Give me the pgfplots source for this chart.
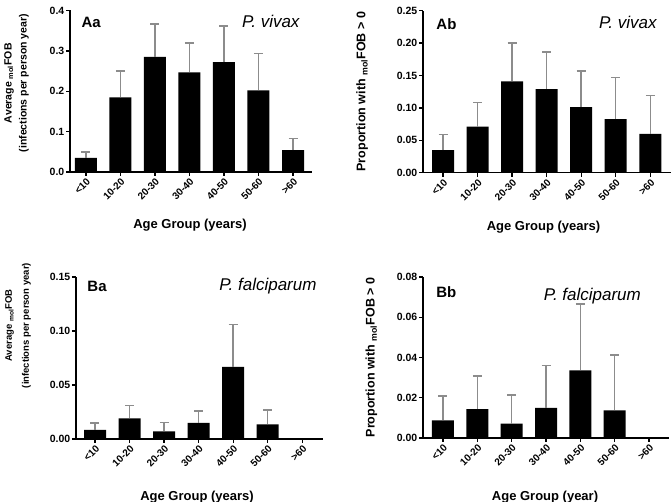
\documentclass[border=0pt]{standalone}
\usepackage{pgfplots}
\pgfplotsset{compat=1.18}
\usepackage{fontspec}
\setmainfont{Liberation Sans}

\pgfplotsset{
 panel/.style={
  scale only axis,
  axis x line*=bottom, axis y line*=left,
  axis line style={line width=1.6pt,-},
  ybar, bar width=22pt,
  ymin=0,
  scaled y ticks=false,
  xtick={0,...,6},
  xticklabels={<10,10-20,20-30,30-40,40-50,50-60,>60},
  x tick label style={rotate=45, anchor=north east, inner sep=1pt, font=\bfseries\fontsize{10}{10}\selectfont},
  y tick label style={font=\bfseries\fontsize{10.5}{11}\selectfont, inner sep=1.5pt},
  tick align=outside, major tick length=4pt,
  tick style={line width=1.3pt, black},
  /pgf/number format/assume math mode=true,
  clip=false,
  every axis y label/.style={rotate=90, anchor=center, align=center},
  every axis x label/.style={anchor=center, font=\bfseries\fontsize{13}{14}\selectfont},
 },
 barstyle/.style={fill=black, draw=none,
   error bars/.cd, y dir=plus, y explicit,
   error bar style={line width=1.5pt, black!45},
   error mark options={rotate=90, mark size=4.5pt, line width=1.5pt, black!45}},
}

\begin{document}
\begin{tikzpicture}
\useasboundingbox (0,0) rectangle (672pt,502pt);

% ---------------- Aa ----------------
\begin{axis}[panel,
  at={(70pt,330pt)}, anchor=south west,
  width=242pt, height=161.5pt,
  xmin=-0.46, xmax=6.55, ymax=0.4,
  ytick={0,0.1,0.2,0.3,0.4}, yticklabels={0.0,0.1,0.2,0.3,0.4},
  xlabel={Age Group (years)},
  xlabel style={at={(axis description cs:0.496,-0.328)}},
  ylabel={Average \textsubscript{mol}FOB\\(infections per person year)},
  ylabel style={at={(axis description cs:-0.221,0.55)}, font=\bfseries\fontsize{10.5}{15}\selectfont},
]
\addplot[barstyle] coordinates {
 (0,0.035) +- (0,0.015)
 (1,0.185) +- (0,0.065)
 (2,0.285) +- (0,0.082)
 (3,0.247) +- (0,0.073)
 (4,0.272) +- (0,0.090)
 (5,0.202) +- (0,0.091)
 (6,0.054) +- (0,0.029)
};
\node[anchor=west, font=\bfseries\fontsize{15}{16}\selectfont] at (rel axis cs:0.033,0.926) {Aa};
\node[anchor=east, font=\itshape\fontsize{17}{18}\selectfont] at (rel axis cs:0.963,0.93) {P. vivax};
\end{axis}

% ---------------- Ab ----------------
\begin{axis}[panel,
  at={(423pt,329.3pt)}, anchor=south west,
  width=248pt, height=162pt,
  xmin=-0.58, xmax=6.6, ymax=0.25,
  ytick={0,0.05,0.1,0.15,0.2,0.25}, yticklabels={0.00,0.05,0.10,0.15,0.20,0.25},
  xlabel={Age Group (years)},
  xlabel style={at={(axis description cs:0.486,-0.335)}},
  ylabel={Proportion with \textsubscript{mol}FOB > 0},
  ylabel style={at={(axis description cs:-0.245,0.5)}, font=\bfseries\fontsize{12.5}{14}\selectfont},
]
\addplot[barstyle] coordinates {
 (0,0.035) +- (0,0.024)
 (1,0.071) +- (0,0.037)
 (2,0.141) +- (0,0.059)
 (3,0.129) +- (0,0.057)
 (4,0.101) +- (0,0.056)
 (5,0.0825) +- (0,0.0645)
 (6,0.060) +- (0,0.059)
};
\node[anchor=west, font=\bfseries\fontsize{15}{16}\selectfont] at (rel axis cs:0.04,0.918) {Ab};
\node[anchor=east, font=\itshape\fontsize{17}{18}\selectfont] at (rel axis cs:0.956,0.93) {P. vivax};
\end{axis}

% ---------------- Ba ----------------
\begin{axis}[panel,
  at={(76pt,63pt)}, anchor=south west,
  width=247pt, height=162pt,
  xmin=-0.55, xmax=6.6, ymax=0.15,
  ytick={0,0.05,0.1,0.15}, yticklabels={0.00,0.05,0.10,0.15},
  xlabel={Age Group (years)},
  xlabel style={at={(axis description cs:0.49,-0.358)}},
  ylabel={Average \textsubscript{mol}FOB\\(infections per person year)},
  ylabel style={at={(axis description cs:-0.235,0.70)}, font=\bfseries\fontsize{9.5}{17}\selectfont},
]
\addplot[barstyle] coordinates {
 (0,0.0085) +- (0,0.0065)
 (1,0.019) +- (0,0.012)
 (2,0.007) +- (0,0.0085)
 (3,0.015) +- (0,0.011)
 (4,0.0667) +- (0,0.0393)
 (5,0.0136) +- (0,0.0134)
};
\node[anchor=west, font=\bfseries\fontsize{15}{16}\selectfont] at (rel axis cs:0.032,0.94) {Ba};
\node[anchor=east, font=\itshape\fontsize{17}{18}\selectfont] at (rel axis cs:0.988,0.945) {P. falciparum};
\end{axis}

% ---------------- Bb ----------------
\begin{axis}[panel,
  at={(423pt,64pt)}, anchor=south west,
  width=246pt, height=161pt,
  xmin=-0.58, xmax=6.58, ymax=0.08,
  ytick={0,0.02,0.04,0.06,0.08}, yticklabels={0.00,0.02,0.04,0.06,0.08},
  xlabel={Age Group (year)},
  xlabel style={at={(axis description cs:0.496,-0.366)}},
  ylabel={Proportion with \textsubscript{mol}FOB > 0},
  ylabel style={at={(axis description cs:-0.21,0.5)}, font=\bfseries\fontsize{12.5}{14}\selectfont},
]
\addplot[barstyle] coordinates {
 (0,0.0087) +- (0,0.0122)
 (1,0.0144) +- (0,0.0163)
 (2,0.0072) +- (0,0.0142)
 (3,0.015) +- (0,0.021)
 (4,0.0336) +- (0,0.033)
 (5,0.0137) +- (0,0.0276)
};
\node[anchor=west, font=\bfseries\fontsize{15}{16}\selectfont] at (rel axis cs:0.04,0.907) {Bb};
\node[anchor=east, font=\itshape\fontsize{17}{18}\selectfont] at (rel axis cs:0.9,0.88) {P. falciparum};
\end{axis}
\end{tikzpicture}
\end{document}
